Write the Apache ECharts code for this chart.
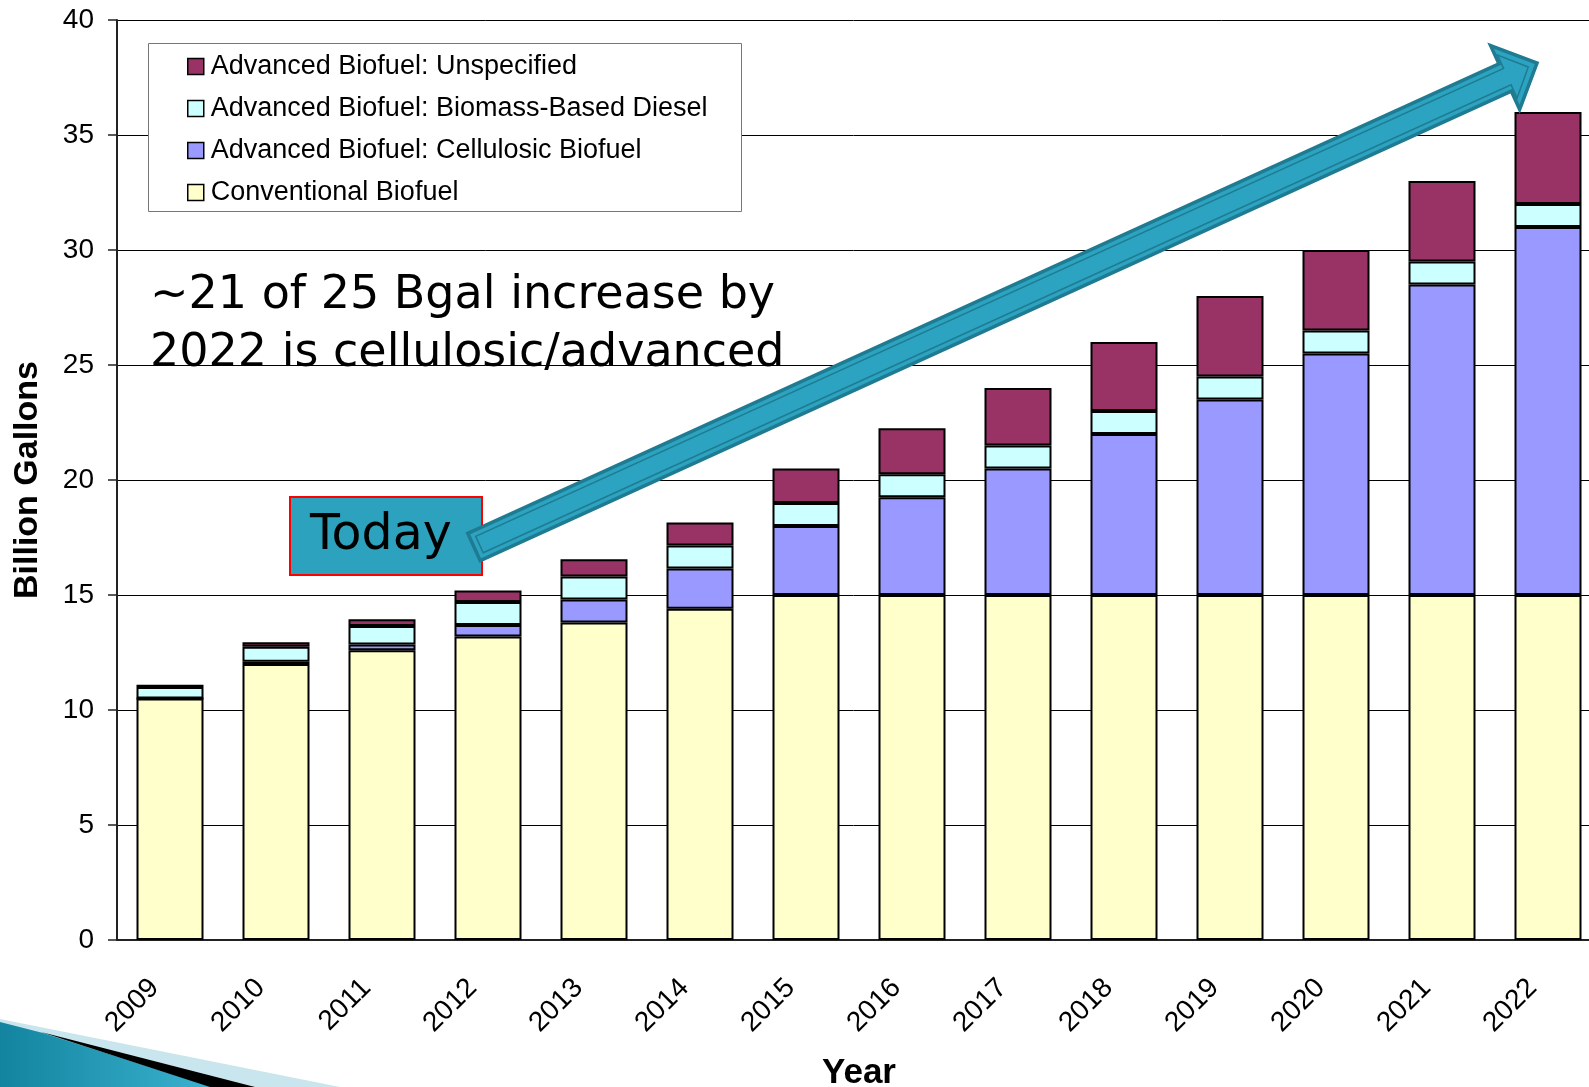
<!DOCTYPE html>
<html>
<head>
<meta charset="utf-8">
<script src="https://cdn.jsdelivr.net/npm/echarts@6/dist/echarts.min.js"></script>
<style>
html,body{margin:0;padding:0;background:#fff;}
#chart{width:1589px;height:1087px;}
</style>
</head>
<body>
<div id="chart"></div>
<script>
// ---- data ----
const years = ['2009','2010','2011','2012','2013','2014','2015','2016','2017','2018','2019','2020','2021','2022'];
const conventional  = [10.5, 12.0, 12.6, 13.2, 13.8, 14.4, 15, 15, 15, 15, 15, 15, 15, 15];
const cellulosic    = [0, 0.1, 0.25, 0.5, 1.0, 1.75, 3.0, 4.25, 5.5, 7.0, 8.5, 10.5, 13.5, 16.0];
const biomassDiesel = [0.5, 0.65, 0.8, 1.0, 1.0, 1.0, 1.0, 1.0, 1.0, 1.0, 1.0, 1.0, 1.0, 1.0];
const unspecified   = [0.1, 0.2, 0.3, 0.5, 0.75, 1.0, 1.5, 2.0, 2.5, 3.0, 3.5, 3.5, 3.5, 4.0];
const seriesNames = ['Conventional Biofuel','Advanced Biofuel: Cellulosic Biofuel','Advanced Biofuel: Biomass-Based Diesel','Advanced Biofuel: Unspecified'];
const legendOrder = ['Advanced Biofuel: Unspecified','Advanced Biofuel: Biomass-Based Diesel','Advanced Biofuel: Cellulosic Biofuel','Conventional Biofuel'];
const seriesColors = ['#FFFFCC','#9999FF','#CCFFFF','#993366'];
const yTicks = {min:0, max:40, interval:5};
const annotationLines = ['~21 of 25 Bgal increase by','2022 is cellulosic/advanced'];
const todayLabel = 'Today';

const chart = echarts.init(document.getElementById('chart'), null, {renderer:'canvas'});

// arrow geometry helpers
function arrowPoly(tail, tip, shaftHalf, headLen, headHalf, inset) {
  const dx = tip[0]-tail[0], dy = tip[1]-tail[1];
  const L = Math.hypot(dx,dy);
  const u = [dx/L, dy/L], n = [-u[1], u[0]];
  inset = inset || 0;
  const t0 = [tail[0]+u[0]*inset, tail[1]+u[1]*inset];
  const tp = [tip[0]-u[0]*inset*1.6, tip[1]-u[1]*inset*1.6];
  const sh = shaftHalf - inset, hh = headHalf - inset*1.9;
  const base = [tip[0]-u[0]*headLen, tip[1]-u[1]*headLen];
  const b2 = [base[0]+u[0]*(inset*0.4), base[1]+u[1]*(inset*0.4)];
  const P = (p, k) => [p[0]+n[0]*k, p[1]+n[1]*k];
  return [P(t0, sh), P(b2, sh), P(b2, hh), tp, P(b2, -hh), P(b2, -sh), P(t0, -sh)];
}
const tail = [474, 547], tip = [1537, 63];

const series = seriesNames.map((name, i) => ({
  name: name,
  type: 'bar',
  stack: 'total',
  barWidth: 67,
  data: [conventional, cellulosic, biomassDiesel, unspecified][i],
  itemStyle: {color: seriesColors[i], borderColor: '#000', borderWidth: 2},
  emphasis: {disabled: true}
}));

chart.setOption({
  animation: false,
  backgroundColor: '#fff',
  grid: {left: 117, width: 1484, top: 20, bottom: 147, containLabel: false, outerBoundsMode: 'none'},
  legend: {
    data: legendOrder,
    orient: 'vertical',
    left: 187,
    top: 53,
    padding: 0,
    icon: 'rect',
    itemWidth: 16,
    itemHeight: 16,
    itemGap: 15,
    z: 10,
    itemStyle: {borderColor: '#000', borderWidth: 1.5},
    textStyle: {fontFamily: 'Liberation Sans, Arial, sans-serif', fontSize: 27, color: '#000', lineHeight: 27, padding: [0,0,0,2]}
  },
  xAxis: {
    type: 'category',
    data: years,
    axisLine: {lineStyle: {color: '#222', width: 2}},
    axisTick: {length: 9, lineStyle: {color: '#222', width: 1.5}},
    axisLabel: {rotate: 45, margin: 28, padding: [0, 22, 0, 0], color: '#000', fontSize: 28, fontFamily: 'Liberation Sans, Arial, sans-serif', hideOverlap: false}
  },
  yAxis: {
    type: 'value',
    min: yTicks.min, max: yTicks.max, interval: yTicks.interval,
    axisLine: {show: true, lineStyle: {color: '#222', width: 2}},
    axisTick: {show: true, length: 9, lineStyle: {color: '#222', width: 1.5}},
    axisLabel: {margin: 23, color: '#000', fontSize: 28, fontFamily: 'Liberation Sans, Arial, sans-serif'},
    splitLine: {lineStyle: {color: '#000', width: 1}}
  },
  series: series,
  graphic: [
    // legend frame
    {type: 'rect', z: 3, shape: {x: 148.5, y: 43.5, width: 593, height: 168}, style: {fill: '#fff', stroke: '#777', lineWidth: 1}},
    // axis titles
    {type: 'text', z: 5, x: 28, y: 480, rotation: Math.PI/2,
     style: {text: 'Billion Gallons', align: 'center', verticalAlign: 'middle', font: 'bold 34px "Liberation Sans", Arial, sans-serif', fill: '#000'}},
    {type: 'text', z: 5, x: 859, y: 1073,
     style: {text: 'Year', align: 'center', verticalAlign: 'middle', font: 'bold 35px "Liberation Sans", Arial, sans-serif', fill: '#000'}},
    // annotation text
    {type: 'text', z: 6, x: 150, y: 296,
     style: {text: annotationLines[0], align: 'left', verticalAlign: 'middle', font: '46px "DejaVu Sans", sans-serif', fill: '#000'}},
    {type: 'text', z: 6, x: 150, y: 354,
     style: {text: annotationLines[1], align: 'left', verticalAlign: 'middle', font: '46px "DejaVu Sans", sans-serif', fill: '#000'}},
    // Today box
    {type: 'rect', z: 6, shape: {x: 290, y: 497, width: 192, height: 78}, style: {fill: '#2CA2BF', stroke: '#FF0000', lineWidth: 2}},
    {type: 'text', z: 7, x: 310, y: 536,
     style: {text: todayLabel, align: 'left', verticalAlign: 'middle', font: '49px "DejaVu Sans", sans-serif', fill: '#000'}},
    // arrow
    {type: 'polygon', z: 8, shape: {points: arrowPoly(tail, tip, 15, 35, 35, 0)}, style: {fill: '#2CA3C0', stroke: '#1F7B91', lineWidth: 3.5, lineJoin: 'miter'}},
    {type: 'polygon', z: 9, shape: {points: arrowPoly(tail, tip, 15, 35, 35, 6)}, style: {fill: null, stroke: '#1F7B91', lineWidth: 1.5, lineJoin: 'miter'}},
    // bottom-left slide decoration
    {type: 'polygon', z: 1, shape: {points: [[0,1019],[340,1087],[0,1087]]}, style: {fill: '#C9E5EE'}},
    {type: 'polygon', z: 2, shape: {points: [[0,1022],[43,1033],[212,1087],[0,1087]]},
     style: {fill: new echarts.graphic.LinearGradient(0,0,1,0,[{offset:0,color:'#12849F'},{offset:1,color:'#3BB2CF'}])}},
    {type: 'polygon', z: 2, shape: {points: [[41,1032],[255,1087],[210,1087]]}, style: {fill: '#000'}}
  ]
});
</script>
</body>
</html>
